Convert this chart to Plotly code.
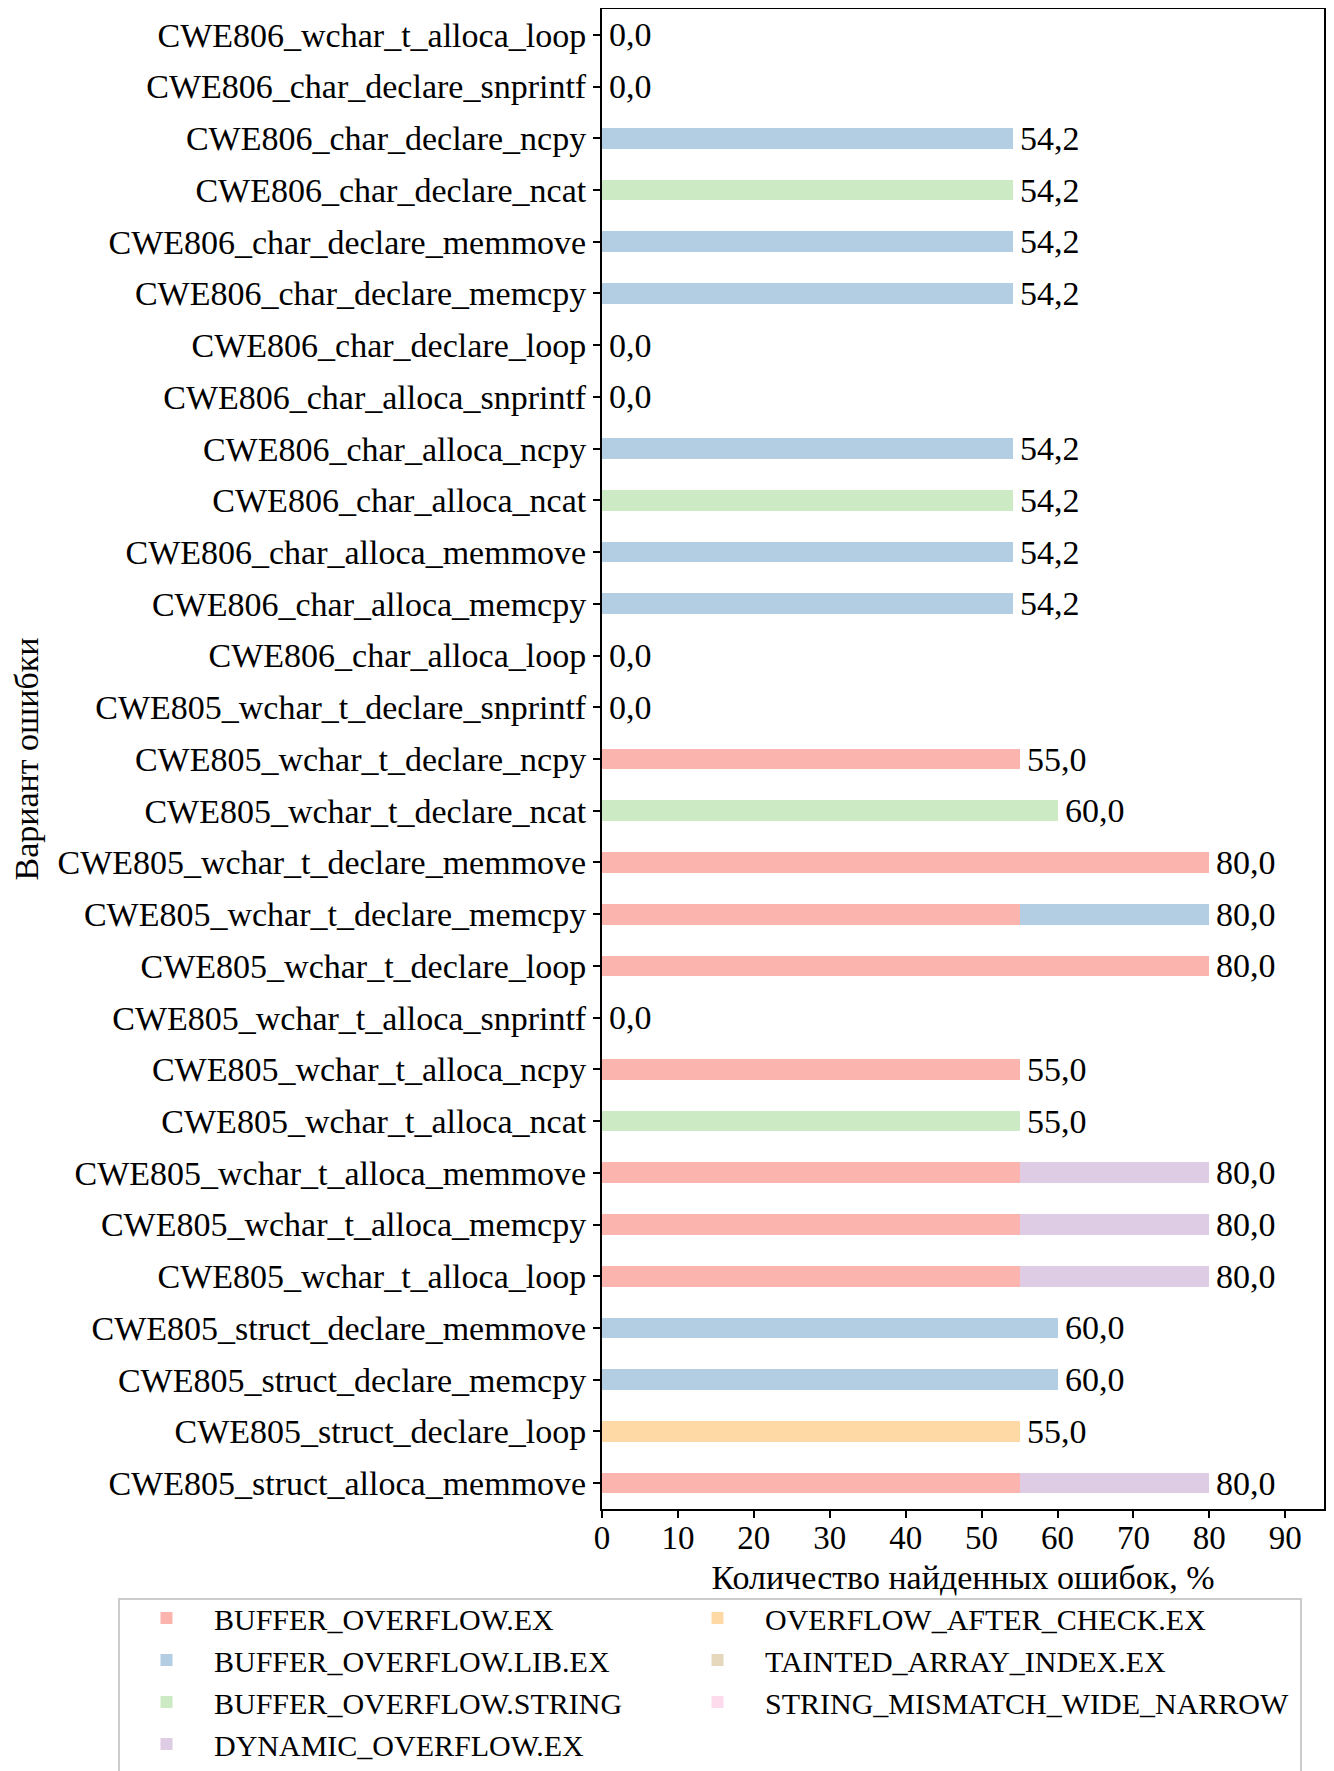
import plotly.graph_objects as go

categories = [
    "CWE806_wchar_t_alloca_loop",
    "CWE806_char_declare_snprintf",
    "CWE806_char_declare_ncpy",
    "CWE806_char_declare_ncat",
    "CWE806_char_declare_memmove",
    "CWE806_char_declare_memcpy",
    "CWE806_char_declare_loop",
    "CWE806_char_alloca_snprintf",
    "CWE806_char_alloca_ncpy",
    "CWE806_char_alloca_ncat",
    "CWE806_char_alloca_memmove",
    "CWE806_char_alloca_memcpy",
    "CWE806_char_alloca_loop",
    "CWE805_wchar_t_declare_snprintf",
    "CWE805_wchar_t_declare_ncpy",
    "CWE805_wchar_t_declare_ncat",
    "CWE805_wchar_t_declare_memmove",
    "CWE805_wchar_t_declare_memcpy",
    "CWE805_wchar_t_declare_loop",
    "CWE805_wchar_t_alloca_snprintf",
    "CWE805_wchar_t_alloca_ncpy",
    "CWE805_wchar_t_alloca_ncat",
    "CWE805_wchar_t_alloca_memmove",
    "CWE805_wchar_t_alloca_memcpy",
    "CWE805_wchar_t_alloca_loop",
    "CWE805_struct_declare_memmove",
    "CWE805_struct_declare_memcpy",
    "CWE805_struct_declare_loop",
    "CWE805_struct_alloca_memmove",
]

buffer_overflow_ex = [0, 0, 0, 0, 0, 0, 0, 0, 0, 0, 0, 0, 0, 0, 55, 0, 80, 55, 80, 0, 55, 0, 55, 55, 55, 0, 0, 0, 55]
buffer_overflow_lib_ex = [0, 0, 54.2, 0, 54.2, 54.2, 0, 0, 54.2, 0, 54.2, 54.2, 0, 0, 0, 0, 0, 25, 0, 0, 0, 0, 0, 0, 0, 60, 60, 0, 0]
buffer_overflow_string = [0, 0, 0, 54.2, 0, 0, 0, 0, 0, 54.2, 0, 0, 0, 0, 0, 60, 0, 0, 0, 0, 0, 55, 0, 0, 0, 0, 0, 0, 0]
dynamic_overflow_ex = [0, 0, 0, 0, 0, 0, 0, 0, 0, 0, 0, 0, 0, 0, 0, 0, 0, 0, 0, 0, 0, 0, 25, 25, 25, 0, 0, 0, 25]
overflow_after_check_ex = [0, 0, 0, 0, 0, 0, 0, 0, 0, 0, 0, 0, 0, 0, 0, 0, 0, 0, 0, 0, 0, 0, 0, 0, 0, 0, 0, 55, 0]
tainted_array_index_ex = [0] * 29
string_mismatch_wide_narrow = [0] * 29

series = [
    ("BUFFER_OVERFLOW.EX", buffer_overflow_ex, "#fbb4ae", "legend"),
    ("BUFFER_OVERFLOW.LIB.EX", buffer_overflow_lib_ex, "#b3cde3", "legend"),
    ("BUFFER_OVERFLOW.STRING", buffer_overflow_string, "#ccebc5", "legend"),
    ("DYNAMIC_OVERFLOW.EX", dynamic_overflow_ex, "#decbe4", "legend"),
    ("OVERFLOW_AFTER_CHECK.EX", overflow_after_check_ex, "#fed9a6", "legend2"),
    ("TAINTED_ARRAY_INDEX.EX", tainted_array_index_ex, "#e5d8bd", "legend2"),
    ("STRING_MISMATCH_WIDE_NARROW", string_mismatch_wide_narrow, "#fddaec", "legend2"),
]

x_ticks = [0, 10, 20, 30, 40, 50, 60, 70, 80, 90]

FONT = "Liberation Serif, Times New Roman, serif"

fig = go.Figure()
for name, vals, color, leg in series:
    fig.add_trace(go.Bar(
        y=categories, x=vals, name=name, orientation="h",
        marker=dict(color=color, line=dict(width=0)),
        width=0.4, legend=leg,
    ))

totals = [sum(s[1][i] for s in series) for i in range(len(categories))]
for cat, tot in zip(categories, totals):
    fig.add_annotation(
        x=tot, y=cat, xref="x", yref="y",
        text=f"{tot:.1f}".replace(".", ","),
        showarrow=False, xanchor="left", yanchor="middle", xshift=5,
        font=dict(family=FONT, size=34, color="black"),
    )

# plot area spans 722 x 1500 px; page body adds an 8px offset
PW, PH = 722, 1500
leg_common = dict(
    orientation="v", xanchor="left", yanchor="top",
    font=dict(family=FONT, size=30, color="black"),
    borderwidth=0, bgcolor="rgba(0,0,0,0)",
    traceorder="normal", itemwidth=85,
)

fig.update_layout(
    width=1334, height=1771,
    barmode="stack",
    plot_bgcolor="white", paper_bgcolor="white",
    margin=dict(l=594, r=18, t=1, b=270, autoexpand=False),
    font=dict(family=FONT, size=34, color="black"),
    legend=dict(x=(119 - 602) / PW, y=(1509 - 1592) / PH, **leg_common),
    legend2=dict(x=(670 - 602) / PW, y=(1509 - 1592) / PH, **leg_common),
    showlegend=True,
    shapes=[dict(
        type="rect", xref="paper", yref="paper",
        x0=(119 - 602) / PW, x1=(1301 - 602) / PW,
        y0=(1509 - 1800) / PH, y1=(1509 - 1599) / PH,
        line=dict(color="#cccccc", width=2), fillcolor="rgba(0,0,0,0)",
        layer="below",
    )],
)

fig.update_xaxes(
    range=[0, 95.1], tickvals=x_ticks, ticktext=[str(t) for t in x_ticks],
    showgrid=False, zeroline=False, automargin=False,
    showline=True, linecolor="black", linewidth=2, mirror=True,
    ticks="outside", ticklen=7, tickwidth=2, tickcolor="black",
    ticklabelstandoff=-9,
    tickfont=dict(family=FONT, size=33),
    title=dict(text="Количество найденных ошибок, %", font=dict(family=FONT, size=34), standoff=11),
)
fig.update_yaxes(
    type="category", range=[28.5, -0.5],
    showgrid=False, zeroline=False, automargin=False,
    showline=True, linecolor="black", linewidth=2, mirror=True,
    ticks="outside", ticklen=7, tickwidth=2, tickcolor="black",
    tickfont=dict(family=FONT, size=34),
    title=dict(text="Вариант ошибки", font=dict(family=FONT, size=34), standoff=10),
)

fig.write_html("out.html")
